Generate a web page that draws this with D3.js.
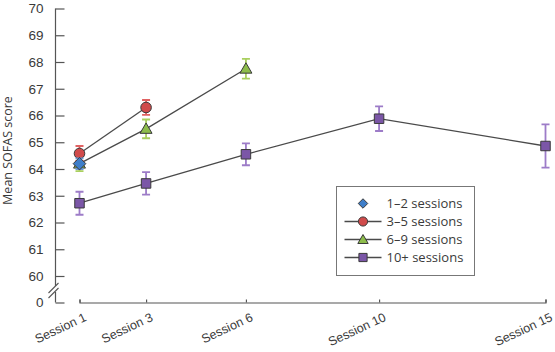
<!DOCTYPE html>
<html>
<head>
<meta charset="utf-8">
<script src="https://cdn.jsdelivr.net/npm/d3@7"></script>
<style>
  html, body { margin: 0; padding: 0; background: #fff; }
  svg { display: block; font-family: "Open Sans", Lato, sans-serif; }
</style>
</head>
<body>
<div id="chart"></div>
<script>
// data
const sessionTicks = [1, 3, 6, 10, 15];
const sessionLabels = ['Session 1', 'Session 3', 'Session 6', 'Session 10', 'Session 15'];
const yTickValues = [0, 60, 61, 62, 63, 64, 65, 66, 67, 68, 69, 70];

const groupNames = ['1\u20132 sessions', '3\u20135 sessions', '6\u20139 sessions', '10+ sessions'];

const g12Sessions = [1];
const g12Means = [64.2];
const g12Errors = [0.2];

const g35Sessions = [1, 3];
const g35Means = [64.58, 66.3];
const g35Errors = [0.28, 0.28];

const g69Sessions = [1, 3, 6];
const g69Means = [64.2, 65.5, 67.75];
const g69Errors = [0.28, 0.35, 0.37];

const g10Sessions = [1, 3, 6, 10, 15];
const g10Means = [62.72, 63.46, 64.55, 65.88, 64.86];
const g10Errors = [0.43, 0.42, 0.41, 0.46, 0.81];

const W = 555, H = 352;
const TEXT = '#3a3a3a', AXIS = '#555';

const svg = d3.select('#chart').append('svg').attr('width', W).attr('height', H);

// x: linear in session number
const x = d3.scaleLinear().domain([1, 15]).range([79.5, 545.5]);
// y: broken axis, 0 sits just under 60
const y = d3.scaleLinear().domain([0, 60, 70]).range([302.5, 276, 8.5]);

// diamond = square turned 45°
const diamond = { draw(ctx, size) { const r = Math.sqrt(size / 2); ctx.moveTo(0, -r); ctx.lineTo(r, 0); ctx.lineTo(0, r); ctx.lineTo(-r, 0); ctx.closePath(); } };

const series = [
  { name: groupNames[3], sess: g10Sessions, mean: g10Means, err: g10Errors, shape: d3.symbolSquare, size: 90, fill: '#7b56a7', errCol: '#9d7cc8', line: true },
  { name: groupNames[2], sess: g69Sessions, mean: g69Means, err: g69Errors, shape: d3.symbolTriangle, size: 62, fill: '#8dbd4b', errCol: '#a9cf5f', line: true },
  { name: groupNames[1], sess: g35Sessions, mean: g35Means, err: g35Errors, shape: d3.symbolCircle, size: 88, fill: '#d04b4b', errCol: '#e06262', line: true },
  { name: groupNames[0], sess: g12Sessions, mean: g12Means, err: g12Errors, shape: diamond, size: 80, fill: '#3e7ec9', errCol: '#6a9ad6', line: false }
];

// y axis — ticks point inward, domain drawn by hand to show the break
const yAxis = d3.axisLeft(y).tickValues(yTickValues).tickSize(-9).tickPadding(12).tickFormat(d3.format('d'));
const gy = svg.append('g').attr('transform', 'translate(55.5,0)').call(yAxis);
gy.select('.domain').remove();
gy.selectAll('.tick line').attr('stroke', AXIS).attr('stroke-width', 1.2);
gy.selectAll('.tick text').attr('fill', TEXT).attr('font-size', 13.5);
gy.append('path').attr('d', `M0,${y(70)}V${y(60) + 10}M0,${y(60) + 16}V${y(0)}`)
  .attr('stroke', AXIS).attr('stroke-width', 1.2).attr('fill', 'none');
[0, 5].forEach(o => gy.append('line')
  .attr('x1', -7).attr('y1', y(60) + 17 + o).attr('x2', 3).attr('y2', y(60) + 7 + o)
  .attr('stroke', AXIS).attr('stroke-width', 1.1));

svg.append('text')
  .attr('transform', `translate(12,${(y(70) + y(0)) / 2 - 5}) rotate(-90)`)
  .attr('text-anchor', 'middle').attr('fill', TEXT).attr('font-size', 12.5)
  .text('Mean SOFAS score');

// x axis — short upward ticks
const xAxis = d3.axisBottom(x).tickValues(sessionTicks).tickSize(-3).tickSizeOuter(-3)
  .tickFormat((d, i) => sessionLabels[i]);
const gx = svg.append('g').attr('transform', `translate(0,${y(0)})`).call(xAxis);
gx.select('.domain').attr('stroke', AXIS).attr('stroke-width', 1.2);
gx.selectAll('.tick line').attr('stroke', AXIS).attr('stroke-width', 1.2);
gx.selectAll('.tick text')
  .attr('fill', TEXT).attr('font-size', 12.5)
  .attr('text-anchor', 'end').attr('dy', 0)
  .attr('transform', 'translate(6,15) rotate(-25)');

// lines, error bars, markers
const line = d3.line().x(d => x(d.s)).y(d => y(d.m));
const pts = s => s.sess.map((v, i) => ({ s: v, m: s.mean[i], e: s.err[i] }));

series.forEach(s => {
  if (s.line) svg.append('path').datum(pts(s)).attr('d', line)
    .attr('fill', 'none').attr('stroke', '#4a4a4a').attr('stroke-width', 1.3);
});

series.forEach(s => {
  const g = svg.append('g');
  pts(s).forEach(p => {
    const cx = x(p.s), y0 = y(p.m + p.e), y1 = y(p.m - p.e);
    g.append('path').attr('d', `M${cx},${y0}V${y1}M${cx - 4},${y0}H${cx + 4}M${cx - 4},${y1}H${cx + 4}`)
      .attr('stroke', s.errCol).attr('stroke-width', 1.8).attr('fill', 'none');
  });
  pts(s).forEach(p => {
    g.append('path').attr('d', d3.symbol(s.shape, s.size)())
      .attr('transform', `translate(${x(p.s)},${y(p.m) + (s.shape === d3.symbolTriangle ? 1 : 0)})`)
      .attr('fill', s.fill).attr('stroke', '#3a3a3a').attr('stroke-width', 1);
  });
});

// legend
const lg = svg.append('g').attr('transform', 'translate(336.5,186.5)');
lg.append('rect').attr('width', 138).attr('height', 89)
  .attr('fill', '#fff').attr('stroke', '#777').attr('stroke-width', 1);
series.slice().reverse().forEach((s, i) => {
  const row = lg.append('g').attr('transform', `translate(0,${17 + i * 18})`);
  if (s.line) row.append('line').attr('x1', 8).attr('x2', 45).attr('stroke', '#4a4a4a').attr('stroke-width', 1.3);
  row.append('path').attr('d', d3.symbol(s.shape, s.line ? s.size * 0.75 : 45)())
    .attr('transform', `translate(26.5,${s.shape === d3.symbolTriangle ? 1 : 0})`)
    .attr('fill', s.fill).attr('stroke', '#3a3a3a').attr('stroke-width', 1);
  row.append('text').attr('x', 50).attr('dy', '0.35em')
    .attr('fill', TEXT).attr('font-size', 13).text(s.name);
});
</script>
</body>
</html>
